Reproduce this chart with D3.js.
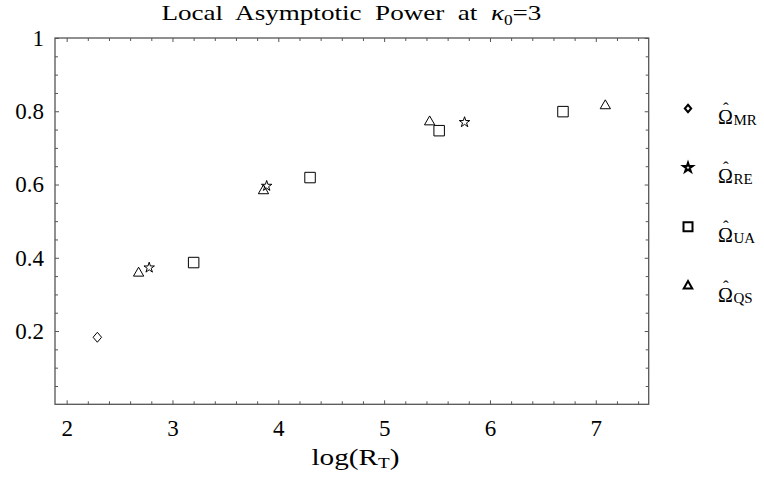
<!DOCTYPE html>
<html>
<head>
<meta charset="utf-8">
<script src="https://cdn.jsdelivr.net/npm/d3@7"></script>
<style>
  body { margin: 0; background: #fff; }
  text { font-family: "Liberation Serif", "Times New Roman", serif; fill: #000; }
</style>
</head>
<body>
<div id="chart"></div>
<script>
// data
var seriesNames = ["MR", "RE", "UA", "QS"];
var mrX = [2.29], mrY = [0.183];
var reX = [2.78, 3.89, 5.76], reY = [0.373, 0.596, 0.770];
var uaX = [3.20, 4.30, 5.52, 6.69], uaY = [0.387, 0.619, 0.747, 0.799];
var qsX = [2.68, 3.86, 5.43, 7.09], qsY = [0.358, 0.583, 0.771, 0.815];
var xTicks = [2, 3, 4, 5, 6, 7];
var yTicks = [0.2, 0.4, 0.6, 0.8, 1];
var yTickLabels = ["0.2", "0.4", "0.6", "0.8", "1"];

var w = 764, h = 479;
var margin = {top: 38, right: 115.3, bottom: 74.7, left: 55};
var plotLeft = margin.left, plotRight = w - margin.right,
    plotTop = margin.top, plotBottom = h - margin.bottom;

var svg = d3.select("#chart").append("svg")
    .attr("width", w)
    .attr("height", h);

var x = d3.scaleLinear().domain([1.89, 7.5]).range([plotLeft, plotRight]),
    y = d3.scaleLinear().domain([0, 1]).range([plotBottom, plotTop]);

// minor tick positions
var xMinor = d3.range(2, 7.5, 0.2).filter(function(v) { return Math.abs(v - Math.round(v)) > 1e-6; });
var yMinor = d3.range(0.05, 1, 0.05).filter(function(v) { return Math.abs(v * 5 - Math.round(v * 5)) > 1e-6; });

var axisColor = "#555";

// custom diamond, a bit taller than wide
var diamond = {
  draw: function(ctx, size) {
    var a = Math.sqrt(size / 1.7), b = a * 0.85;
    ctx.moveTo(0, -a); ctx.lineTo(b, 0); ctx.lineTo(0, a); ctx.lineTo(-b, 0); ctx.closePath();
  }
};
var symbolTypes = {MR: diamond, RE: d3.symbolStar, UA: d3.symbolSquare, QS: d3.symbolTriangle};
var plotSizes = {MR: 42, RE: 34, UA: 110, QS: 46};
var legendSizes = {MR: 24, RE: 28, UA: 81, QS: 31};

function addAxis(axis, tx, ty) {
  var g = svg.append("g")
      .attr("transform", "translate(" + tx + "," + ty + ")")
      .call(axis);
  g.select(".domain").remove();
  g.selectAll("line").attr("stroke", axisColor).attr("stroke-width", 1);
  g.selectAll("text").style("font-size", "23px").style("font-family", "Liberation Serif, serif").attr("fill", "#000");
  return g;
}

// bottom axis (labels) + minors
addAxis(d3.axisBottom(x).tickValues(xTicks).tickSize(-4).tickPadding(15).tickFormat(d3.format("d")), 0, plotBottom);
addAxis(d3.axisBottom(x).tickValues(xMinor).tickSize(-3).tickFormat(""), 0, plotBottom);
// top axis
addAxis(d3.axisTop(x).tickValues(xTicks).tickSize(-4).tickFormat(""), 0, plotTop);
addAxis(d3.axisTop(x).tickValues(xMinor).tickSize(-3).tickFormat(""), 0, plotTop);
// left axis
addAxis(d3.axisLeft(y).tickValues(yTicks).tickSize(-4).tickPadding(11)
    .tickFormat(function(d, i) { return yTickLabels[i]; }), plotLeft, 0);
addAxis(d3.axisLeft(y).tickValues(yMinor).tickSize(-3).tickFormat(""), plotLeft, 0);
// right axis
addAxis(d3.axisRight(y).tickValues(yTicks).tickSize(-4).tickFormat(""), plotRight, 0);
addAxis(d3.axisRight(y).tickValues(yMinor).tickSize(-3).tickFormat(""), plotRight, 0);

// frame
svg.append("rect")
    .attr("x", plotLeft).attr("y", plotTop)
    .attr("width", plotRight - plotLeft).attr("height", plotBottom - plotTop)
    .attr("fill", "none")
    .attr("stroke", axisColor)
    .attr("stroke-width", 1.3);

// points
var series = [
  {name: "MR", xs: mrX, ys: mrY},
  {name: "RE", xs: reX, ys: reY},
  {name: "UA", xs: uaX, ys: uaY},
  {name: "QS", xs: qsX, ys: qsY}
];
series.forEach(function(s) {
  var pts = s.xs.map(function(v, i) { return [v, s.ys[i]]; });
  svg.append("g").selectAll("path")
    .data(pts)
    .enter().append("path")
      .attr("transform", function(d) { return "translate(" + x(d[0]) + "," + y(d[1]) + ")"; })
      .attr("d", d3.symbol().type(symbolTypes[s.name]).size(plotSizes[s.name]))
      .attr("fill", "none")
      .attr("stroke", "#000")
      .attr("stroke-width", 1);
});

// title
var title = svg.append("text")
    .attr("x", 351.4)
    .attr("y", 19.5)
    .attr("text-anchor", "middle")
    .attr("textLength", 380)
    .attr("lengthAdjust", "spacingAndGlyphs")
    .style("font-size", "22px")
    .style("white-space", "pre");
title.append("tspan").text("Local  Asymptotic  Power  at  ");
title.append("tspan").style("font-style", "italic").text("\u03ba");
title.append("tspan").attr("dy", 5).style("font-size", "14px").text("0");
title.append("tspan").attr("dy", -5).text("=3");

// x label
var xl = svg.append("text")
    .attr("x", 355.5)
    .attr("y", 465)
    .attr("text-anchor", "middle")
    .attr("textLength", 88)
    .attr("lengthAdjust", "spacingAndGlyphs")
    .style("font-size", "23px");
xl.append("tspan").text("log(R");
xl.append("tspan").attr("dy", 3).style("font-size", "15px").text("T");
xl.append("tspan").attr("dy", -3).text(")");

// legend
var legendY = d3.scaleLinear().domain([0, 3]).range([108.5, 286]);
var legend = svg.append("g").attr("class", "legend");
var rows = legend.selectAll("g")
    .data(seriesNames)
    .enter().append("g")
    .attr("transform", function(d, i) { return "translate(0," + legendY(i) + ")"; });
rows.append("path")
    .attr("transform", "translate(688,0)")
    .attr("d", function(d) { return d3.symbol().type(symbolTypes[d]).size(legendSizes[d])(); })
    .attr("fill", "none")
    .attr("stroke", "#000")
    .attr("stroke-width", 2);
// Omega with a hat placed over its centre, then the subscript
var lab = rows.append("text")
    .attr("y", 15.5)
    .style("font-size", "20px");
lab.append("tspan").attr("x", 718).text("\u03a9");
lab.append("tspan").attr("x", 725.8).attr("dy", -10).attr("text-anchor", "middle")
    .style("font-size", "17px").text("\u02c6");
lab.append("tspan").attr("x", 733.5).attr("dy", 11).style("font-size", "15px")
    .text(function(d) { return d; });
</script>
</body>
</html>
